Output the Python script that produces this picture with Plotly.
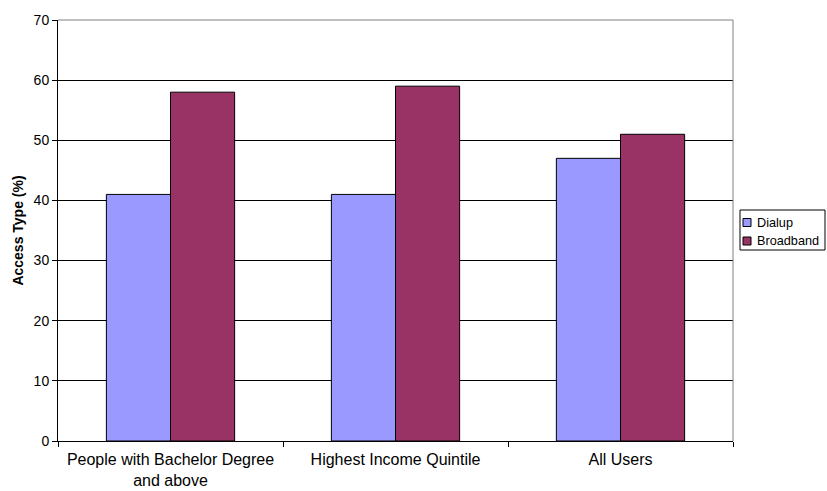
import plotly.graph_objects as go

categories = ["People with Bachelor Degree<br>and above", "Highest Income Quintile", "All Users"]
series_names = ["Dialup", "Broadband"]
dialup = [41, 41, 47]
broadband = [58, 59, 51]
y_ticks = [0, 10, 20, 30, 40, 50, 60, 70]
colors = ["#9999FF", "#993366"]

W, H = 827, 491
L, R, T, B = 58, 94, 20, 50
PW, PH = W - L - R, H - T - B


def px_x(px):
    return (px - L) / PW


def px_y(py):
    return (H - B - py) / PH


fig = go.Figure()
for name, vals, col in zip(series_names, [dialup, broadband], colors):
    fig.add_trace(go.Bar(name=name, x=categories, y=vals,
                         marker=dict(color=col, line=dict(color="black", width=1))))

fig.update_layout(
    width=W, height=H,
    margin=dict(l=L, r=R, t=T, b=B, autoexpand=False),
    paper_bgcolor="white", plot_bgcolor="white",
    barmode="group", bargap=0.43, bargroupgap=0,
    font=dict(family="Liberation Sans, Arial", size=14, color="black"),
    showlegend=False,
)
fig.update_xaxes(type="category", showgrid=False, showline=True, linecolor="black", linewidth=1,
                 ticks="outside", tickson="boundaries", ticklen=5, tickcolor="black",
                 tickfont=dict(size=16), automargin=False, ticklabelstandoff=4)
fig.update_yaxes(range=[0, 70], tickvals=y_ticks, showgrid=True, gridcolor="black", gridwidth=1,
                 showline=True, linecolor="black", linewidth=1, ticks="outside", ticklen=5,
                 tickcolor="black", zeroline=False, tickfont=dict(size=14), automargin=False,
                 title=dict(text="<b>Access Type (%)</b>", font=dict(size=14), standoff=6))
# plot border (top and right, grey)
fig.add_shape(type="line", xref="paper", yref="paper", x0=0, x1=1, y0=1, y1=1,
              line=dict(color="#808080", width=1))
fig.add_shape(type="line", xref="paper", yref="paper", x0=1, x1=1, y0=0, y1=1,
              line=dict(color="#808080", width=1))

# compact legend box
fig.add_shape(type="rect", xref="paper", yref="paper",
              x0=px_x(740), x1=px_x(825), y0=px_y(250), y1=px_y(210),
              line=dict(color="black", width=1), fillcolor="white")
for i, (name, col) in enumerate(zip(series_names, colors)):
    cy = 222.5 + i * 18.5
    fig.add_shape(type="rect", xref="paper", yref="paper",
                  x0=px_x(743), x1=px_x(751), y0=px_y(cy + 4), y1=px_y(cy - 4),
                  line=dict(color="black", width=1), fillcolor=col)
    fig.add_annotation(xref="paper", yref="paper", x=px_x(755), y=px_y(cy),
                       xanchor="left", yanchor="middle", text=name, showarrow=False,
                       font=dict(size=12.7))

fig.write_html("out.html")
